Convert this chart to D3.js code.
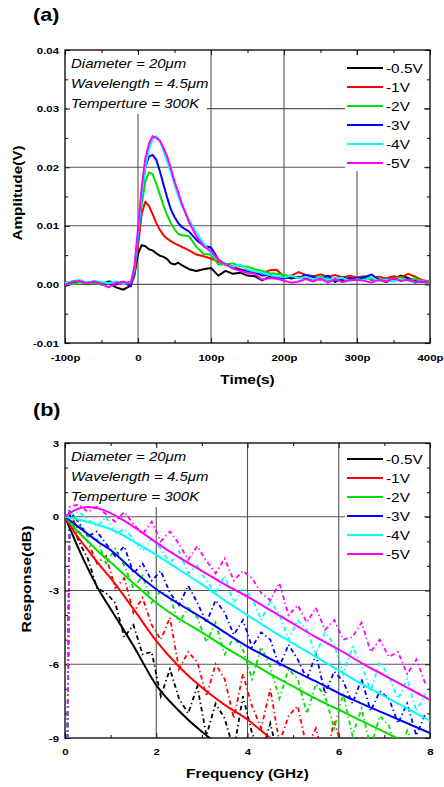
<!DOCTYPE html>
<html lang="en">
<head>
<meta charset="utf-8" />
<title>Pulse response and frequency response</title>
<script src="https://d3js.org/d3.v7.min.js"></script>
<style>
  body { margin: 0; background: #fff; }
  svg text { font-family: "Liberation Sans", Arial, sans-serif; fill: #000; }
</style>
</head>
<body>
<script>
// ---------------- data ----------------
var biasLabels = ["-0.5V", "-1V", "-2V", "-3V", "-4V", "-5V"];
var biasColors = ["#000000", "#ff0000", "#00e000", "#0000ff", "#00ffff", "#ff00ff"];
var infoLines = ["Diameter = 20\u03bcm", "Wavelength = 4.5\u03bcm", "Temperture = 300K"];

// (a) time axis in ps, amplitudes in mV
var timePs = [-100,-90,-80,-70,-60,-50,-40,-30,-20,-10,
  -5,0,5,10,15,20,25,30,35,40,45,50,55,60,
  70,80,90,100,110,120,130,140,150,160,170,180,
  190,200,210,220,230,240,250,260,270,280,290,300,310,320,330,340,350,360,370,380,390,400];
var pulse05V = [-0.3,0.2,0.5,0.1,0.4,0.0,0.3,-0.5,-0.9,-0.2,
  1.5,5.2,6.7,6.5,6.0,5.8,5.3,4.9,4.7,4.3,3.6,3.4,3.7,3.3,
  2.6,2.3,2.6,2.8,1.5,2.3,1.8,2.0,1.5,1.4,0.7,1.3,
  1.0,1.4,1.0,1.3,1.1,0.9,1.2,0.8,1.0,0.7,1.1,0.9,1.2,0.8,1.0,0.7,0.9,1.5,1.1,0.6,0.4,0.3];
var pulse1V = [0.4,0.2,0.5,0.2,0.4,0.1,0.3,0.0,0.2,0.4,
  1.8,6.5,12.0,14.1,13.4,12.0,10.5,9.3,8.4,7.8,7.4,7.0,6.7,6.4,
  5.8,5.1,4.8,4.4,3.9,3.3,3.0,2.6,2.3,2.0,1.9,2.4,
  2.5,1.3,1.5,2.1,1.6,1.4,1.7,1.3,1.6,1.2,1.5,1.2,1.4,1.1,1.3,1.0,1.4,1.2,1.8,1.3,0.7,0.5];
var pulse2V = [0.2,0.0,0.4,0.1,0.3,-0.1,0.6,0.2,0.5,-0.3,
  2.0,7.5,13.5,17.5,19.1,18.8,17.2,15.3,13.4,11.8,10.5,9.4,8.6,8.4,
  8.2,6.4,5.2,5.1,3.4,3.4,3.6,3.1,3.0,2.6,2.3,1.9,
  1.8,1.6,1.4,1.2,1.5,1.0,1.4,1.1,0.9,1.2,0.8,1.0,1.3,0.9,1.1,0.7,1.0,1.2,0.8,1.0,0.6,0.5];
var pulse3V = [0.0,0.4,0.6,0.3,0.5,0.2,0.4,0.1,0.4,-0.3,
  2.3,8.0,15.0,20.0,21.8,22.1,21.3,19.3,17.0,14.8,12.8,11.5,10.5,9.8,
  9.0,7.6,6.6,6.3,4.3,3.4,3.0,2.4,2.3,2.1,1.5,1.6,
  1.2,1.0,1.4,1.1,1.6,1.3,0.8,1.5,0.4,1.2,0.9,1.1,1.2,1.7,0.8,0.4,1.0,0.6,0.9,0.3,0.6,0.2];
var pulse4V = [0.3,0.5,0.8,0.3,0.6,0.4,0.2,0.5,0.1,0.3,
  2.5,8.5,15.0,20.0,23.0,24.8,25.3,24.5,22.8,21.0,19.1,17.0,15.1,13.5,
  11.0,8.8,7.0,5.3,4.2,3.3,3.0,3.4,2.5,2.2,2.0,1.6,
  1.4,1.2,1.5,1.0,1.3,0.9,1.2,0.8,1.0,1.1,0.6,0.9,0.7,1.2,0.6,0.8,0.5,0.9,0.6,0.4,0.6,0.2];
var pulse5V = [-0.2,0.5,0.6,0.2,0.5,0.1,-0.5,0.3,0.4,0.1,
  3.0,9.5,16.5,21.5,24.0,25.3,25.0,24.5,23.3,21.8,19.8,17.6,15.8,13.8,
  10.6,8.2,6.5,5.7,4.2,3.4,2.7,2.3,2.0,1.8,0.8,1.1,
  1.0,0.6,0.3,0.5,0.9,0.5,1.0,0.3,0.9,0.4,0.7,0.8,0.6,0.3,0.8,0.5,1.0,0.6,0.8,0.4,0.5,0.3];
var pulses = [pulse05V, pulse1V, pulse2V, pulse3V, pulse4V, pulse5V];
var timeTicks = [-100, 0, 100, 200, 300, 400];
var timeTickLabels = ["-100p", "0", "100p", "200p", "300p", "400p"];
var ampTicks = [-10, 0, 10, 20, 30, 40];   // mV
var ampTickLabels = ["-0.01", "0.00", "0.01", "0.02", "0.03", "0.04"];

// (b) fitted response (solid) in dB
var fitGHz = [0,0.25,0.5,0.75,1,1.5,2,2.5,3,3.5,4,4.5,5,5.5,6,6.5,7,7.5,8];
var fit05V = [0,-1.1,-2.1,-3.0,-3.75,-5.25,-6.85,-7.9,-8.75,-9.45];
var fit1V = [0,-0.75,-1.35,-1.95,-2.5,-3.75,-5.05,-6.1,-6.95,-7.65,-8.25,-9.0,-9.6];
var fit2V = [0,-0.55,-1.0,-1.45,-1.85,-2.7,-3.5,-4.15,-4.7,-5.3,-5.85,-6.4,-6.9,-7.4,-7.85,-8.3,-8.75,-9.2];
var fit3V = [0,-0.35,-0.7,-1.05,-1.35,-2.2,-2.95,-3.55,-4.1,-4.7,-5.28,-5.78,-6.25,-6.7,-7.18,-7.6,-8.0,-8.4,-8.8];
var fit4V = [0,-0.1,-0.2,-0.35,-0.5,-1.0,-1.55,-2.15,-2.75,-3.4,-4.0,-4.6,-5.15,-5.7,-6.25,-6.8,-7.3,-7.8,-8.3];
var fit5V = [0,0.3,0.4,0.33,0.15,-0.4,-1.05,-1.65,-2.2,-2.75,-3.25,-3.8,-4.35,-4.9,-5.4,-5.95,-6.45,-6.95,-7.45];
var fits = [fit05V, fit1V, fit2V, fit3V, fit4V, fit5V];

// (b) measured response (dash-dot) in dB
var measGHz = [0.05,0.1,0.3,0.5,0.7,0.9,1.1,1.3,1.5,1.7,1.9,2.1,2.3,2.5,2.7,2.9,3.1,3.3,3.5,3.7,3.9,
  4.1,4.3,4.5,4.7,4.9,5.1,5.3,5.5,5.7,5.9,6.1,6.3,6.5,6.7,6.9,7.1,7.3,7.5,7.7,7.9];
var meas05V = [-10,0.1,-1.0,-1.7,-2.9,-3.1,-3.5,-4.9,-4.4,-5.6,-5.5,-7.3,-6.2,-7.4,-8.0,-6.9,-8.9,-7.6,-8.2,-9.5,-7.3,
  -8.8,-9.7,-8.4,-10,-9.3,-10];
var meas1V = [-10,0.2,-0.6,-1.0,-1.9,-1.6,-2.9,-2.5,-3.9,-3.3,-4.4,-5.0,-4.1,-6.2,-5.5,-5.9,-7.3,-6.0,-6.6,-8.2,-6.4,
  -7.7,-8.6,-7.0,-9.2,-8.1,-7.7,-9.4,-8.6,-10,-8.3,-9.6,-10];
var meas2V = [-10,0.3,-0.3,-0.8,-0.9,-1.9,-1.3,-2.0,-2.9,-2.4,-3.5,-3.0,-3.3,-4.3,-3.7,-4.1,-5.1,-4.3,-5.6,-4.9,-5.4,
  -6.6,-5.3,-6.1,-7.4,-6.2,-6.6,-8.0,-6.8,-7.3,-8.6,-7.2,-8.9,-7.8,-9.4,-8.1,-8.5,-9.8,-8.7,-9.6,-9.1];
var meas3V = [-10,0.2,-0.2,-0.8,-0.6,-1.1,-1.6,-1.2,-2.3,-1.9,-2.6,-2.2,-3.1,-3.6,-2.8,-3.5,-4.3,-3.4,-3.9,-4.8,-4.2,
  -5.3,-4.7,-5.0,-6.1,-5.2,-5.8,-6.6,-5.6,-7.2,-6.3,-6.7,-7.6,-6.6,-7.9,-7.1,-7.4,-8.4,-7.6,-8.9,-8.0];
var meas4V = [-10,0.1,0.2,-0.1,-0.4,0.0,-0.7,-0.5,-0.9,-1.4,-0.9,-1.3,-1.9,-1.4,-2.3,-2.0,-2.6,-3.1,-2.4,-3.5,-2.9,
  -3.3,-4.2,-3.4,-4.0,-5.0,-4.2,-4.6,-5.6,-4.7,-5.2,-6.4,-5.3,-6.0,-7.1,-5.9,-6.5,-7.4,-6.6,-7.9,-7.2];
var meas5V = [-10,0.4,0.5,0.2,0.4,0.1,-0.2,0.2,-0.3,-0.7,-0.2,-1.0,-0.6,-1.1,-1.75,-1.2,-1.8,-2.3,-1.7,-2.6,-2.2,
  -2.5,-3.1,-3.4,-2.7,-4.0,-3.6,-4.3,-3.7,-4.6,-4.2,-5.0,-4.9,-4.3,-5.5,-5.0,-5.7,-5.5,-6.4,-5.8,-6.8];
var measured = [meas05V, meas1V, meas2V, meas3V, meas4V, meas5V];
var freqTicks = [0, 2, 4, 6, 8];
var dbTicks = [-9, -6, -3, 0, 3];

// ---------------- drawing ----------------
var width = 444, height = 787;
var stretch = 1.2;   // lettering in the picture is wider than it is tall

var svg = d3.select("body").append("svg")
    .attr("width", width)
    .attr("height", height);

function wideText(sel) {
    sel.each(function () {
        var t = d3.select(this);
        var x = +t.attr("x") || 0;
        t.attr("x", x / stretch).attr("transform", (t.attr("transform") || "") + " scale(" + stretch + ",1)");
    });
}

function drawPanel(p) {
    var g = svg.append("g");
    var x = p.x, y = p.y;
    var L = x.range()[0], R = x.range()[1], B = y.range()[0], T = y.range()[1];

    // grid
    g.selectAll(".gx").data(p.gridX).enter().append("line")
        .attr("x1", d => x(d)).attr("x2", d => x(d)).attr("y1", T).attr("y2", B)
        .attr("stroke", "#555").attr("stroke-width", 1.1);
    g.selectAll(".gy").data(p.gridY).enter().append("line")
        .attr("x1", L).attr("x2", R).attr("y1", d => y(d)).attr("y2", d => y(d))
        .attr("stroke", "#555").attr("stroke-width", 1.1);

    // white boxes behind the note and the legend
    g.append("rect").attr("x", L + 2).attr("y", T + 2).attr("width", 140).attr("height", 62).attr("fill", "#fff");
    g.append("rect").attr("x", 345).attr("y", T + 5).attr("width", 79).attr("height", 116).attr("fill", "#fff");

    // ticks, inward on all four sides
    var axes = [
        [d3.axisBottom(x), "translate(0," + B + ")", p.majX, p.minX],
        [d3.axisTop(x), "translate(0," + T + ")", p.majX, p.minX],
        [d3.axisLeft(y), "translate(" + L + ",0)", p.majY, p.minY],
        [d3.axisRight(y), "translate(" + R + ",0)", p.majY, p.minY]
    ];
    axes.forEach(function (a) {
        g.append("g").attr("transform", a[1])
            .call(a[0].tickValues(a[2]).tickSizeInner(-5).tickSizeOuter(0).tickFormat(""))
            .call(s => s.select(".domain").remove());
        g.append("g").attr("transform", a[1])
            .call(a[0].tickValues(a[3]).tickSizeInner(-3).tickSizeOuter(0).tickFormat(""))
            .call(s => s.select(".domain").remove());
    });
    g.selectAll(".tick line").attr("stroke", "#222").attr("stroke-width", 1.1);

    // tick labels
    g.append("g").attr("transform", "translate(0," + B + ")")
        .call(d3.axisBottom(x).tickValues(p.majX).tickSize(0).tickPadding(p.padX).tickFormat(p.fmtX))
        .call(s => s.select(".domain").remove())
        .selectAll("text").attr("font-size", 9.5).attr("font-weight", "bold")
        .attr("font-family", "Liberation Sans, Arial, sans-serif").call(wideText);
    g.append("g").attr("transform", "translate(" + L + ",0)")
        .call(d3.axisLeft(y).tickValues(p.majY).tickSize(0).tickPadding(6).tickFormat(p.fmtY))
        .call(s => s.select(".domain").remove())
        .selectAll("text").attr("font-size", 9.5).attr("font-weight", "bold")
        .attr("font-family", "Liberation Sans, Arial, sans-serif").call(wideText);

    // frame
    g.append("rect").attr("x", L).attr("y", T).attr("width", R - L).attr("height", B - T)
        .attr("fill", "none").attr("stroke", "#000").attr("stroke-width", 1.3);

    // clip for data
    svg.append("clipPath").attr("id", p.id).append("rect")
        .attr("x", L).attr("y", T).attr("width", R - L).attr("height", B - T);
    var plot = svg.append("g").attr("clip-path", "url(#" + p.id + ")");

    // note
    var note = svg.append("g");
    infoLines.forEach(function (s, i) {
        note.append("text").attr("x", L + 6).attr("y", p.noteY + i * 19.7)
            .attr("font-size", 12.5).attr("font-style", "italic").text(s).call(wideText);
    });

    // legend
    var leg = svg.append("g");
    biasLabels.forEach(function (s, i) {
        var ly = p.legY + i * 19;
        leg.append("line").attr("x1", 347).attr("x2", 383).attr("y1", ly).attr("y2", ly)
            .attr("stroke", biasColors[i]).attr("stroke-width", 2.2);
        leg.append("text").attr("x", 386).attr("y", ly + 4.6).attr("font-size", 12.8).text(s).call(wideText);
    });

    // panel tag and axis titles
    svg.append("text").attr("x", 33).attr("y", p.tagY).attr("font-size", 18).attr("font-weight", "bold")
        .text(p.tag).call(wideText);
    svg.append("text").attr("x", (L + R) / 2).attr("y", p.titleXY).attr("text-anchor", "middle")
        .attr("font-size", 12.8).attr("font-weight", "bold").text(p.titleX).call(wideText);
    svg.append("text")
        .attr("transform", "translate(" + p.titleYX + "," + p.titleYY + ") rotate(-90)")
        .attr("text-anchor", "middle").attr("font-size", 13.5).attr("font-weight", "bold")
        .attr("textLength", p.titleYLen).attr("lengthAdjust", "spacingAndGlyphs")
        .text(p.titleY);

    return plot;
}

// ---- panel (a) ----
var xa = d3.scaleLinear().domain([-100, 400]).range([65, 430]);
var ya = d3.scaleLinear().domain([-10, 40]).range([343, 50]);
var plotA = drawPanel({
    id: "clipA", x: xa, y: ya,
    gridX: [0, 100, 200, 300], gridY: [0, 10, 20, 30],
    majX: timeTicks, minX: [-50, 50, 150, 250, 350],
    majY: ampTicks, minY: [-5, 5, 15, 25, 35],
    fmtX: (d, i) => timeTickLabels[i], fmtY: (d, i) => ampTickLabels[i],
    padX: 11, noteY: 68.5, legY: 68, tag: "(a)", tagY: 21,
    titleX: "Time(s)", titleXY: 384, titleY: "Amplitude(V)", titleYX: 22, titleYY: 193, titleYLen: 95
});

var pulseLine = d3.line().x(d => xa(d[0])).y(d => ya(d[1]));
pulses.forEach(function (vals, i) {
    plotA.append("path")
        .datum(timePs.map((t, k) => [t, vals[k]]))
        .attr("fill", "none").attr("stroke", biasColors[i]).attr("stroke-width", 2)
        .attr("stroke-linejoin", "round")
        .attr("d", pulseLine);
});

// ---- panel (b) ----
var xb = d3.scaleLinear().domain([0, 8]).range([65, 430]);
var yb = d3.scaleLinear().domain([-9, 3]).range([738, 443]);
var plotB = drawPanel({
    id: "clipB", x: xb, y: yb,
    gridX: [2, 4, 6], gridY: [-6, -3, 0],
    majX: freqTicks, minX: [1, 3, 5, 7],
    majY: dbTicks, minY: [-8, -7, -5, -4, -2, -1, 1, 2],
    fmtX: d => d, fmtY: d => d,
    padX: 10, noteY: 461.5, legY: 459, tag: "(b)", tagY: 416,
    titleX: "Frequency (GHz)", titleXY: 778, titleY: "Response(dB)", titleYX: 31, titleYY: 579, titleYLen: 107
});

var measLine = d3.line().x(d => xb(d[0])).y(d => yb(d[1]));
measured.forEach(function (vals, i) {
    plotB.append("path")
        .datum(vals.map((v, k) => [measGHz[k], v]))
        .attr("fill", "none").attr("stroke", biasColors[i]).attr("stroke-width", 1.8)
        .attr("stroke-dasharray", "4.5,3,1.3,3")
        .attr("d", measLine);
});
var fitLine = d3.line().x(d => xb(d[0])).y(d => yb(d[1])).curve(d3.curveMonotoneX);
fits.forEach(function (vals, i) {
    plotB.append("path")
        .datum(vals.map((v, k) => [fitGHz[k], v]))
        .attr("fill", "none").attr("stroke", biasColors[i]).attr("stroke-width", 2)
        .attr("d", fitLine);
});
</script>
</body>
</html>
